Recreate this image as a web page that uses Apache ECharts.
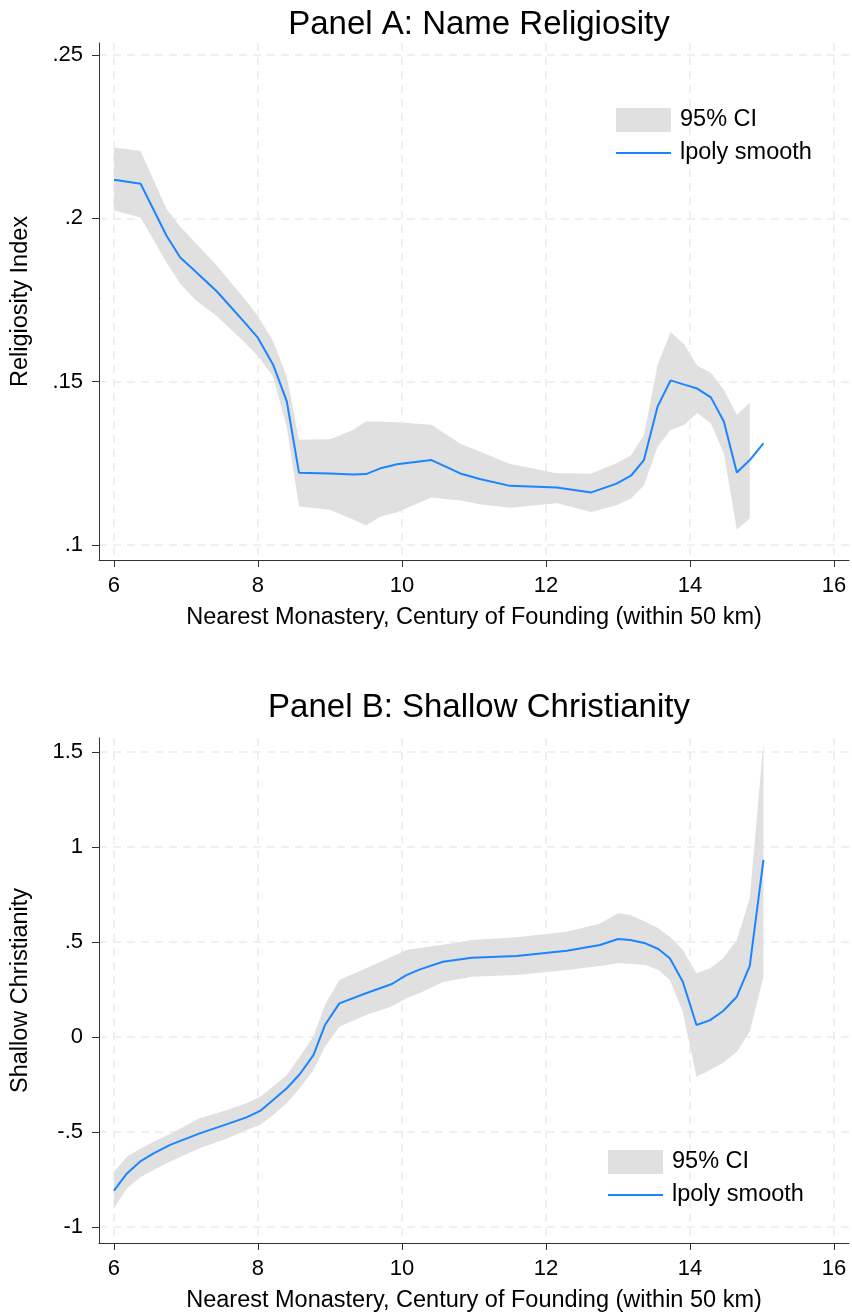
<!DOCTYPE html>
<html>
<head>
<meta charset="utf-8">
<script src="https://cdn.jsdelivr.net/npm/echarts@6/dist/echarts.min.js"></script>
<style>
  html, body { margin: 0; padding: 0; background: #fff; }
  #chart { width: 852px; height: 1316px; }
</style>
</head>
<body>
<div id="chart"></div>
<script>
// tick values
const xTicks = [6, 8, 10, 12, 14, 16];
const yTicksA = [0.1, 0.15, 0.2, 0.25];
const yTicksB = [-1, -0.5, 0, 0.5, 1, 1.5];

// Panel A: name religiosity
const xA = [6.0, 6.37, 6.73, 6.92, 7.125, 7.43, 7.82, 8.0, 8.21, 8.4, 8.57, 9.0, 9.32, 9.5, 9.69, 9.93,
  10.41, 10.81, 11.08, 11.5, 12.15, 12.63, 12.98, 13.18, 13.36, 13.55, 13.73, 13.92, 14.1, 14.29,
  14.47, 14.65, 14.83, 15.02];
const fitA = [0.2118, 0.2106, 0.1947, 0.188, 0.1839, 0.1776, 0.168, 0.1634, 0.1552, 0.144, 0.1221,
  0.1219, 0.1216, 0.1217, 0.1234, 0.1247, 0.126, 0.1219, 0.1202, 0.1181, 0.1176, 0.1161, 0.1188,
  0.1212, 0.126, 0.1424, 0.1504, 0.1491, 0.1479, 0.1452, 0.1378, 0.1222, 0.126, 0.1311];
const upA = [0.2217, 0.2206, 0.2029, 0.1975, 0.1927, 0.1855, 0.1752, 0.170, 0.1624, 0.1516, 0.1322,
  0.1324, 0.1352, 0.1378, 0.1378, 0.1376, 0.1368, 0.131, 0.1286, 0.1248, 0.122, 0.1219, 0.125,
  0.1275, 0.1337, 0.1552, 0.1652, 0.1614, 0.1549, 0.1527, 0.1475, 0.1398, 0.1436, null];
const loA = [0.2024, 0.2003, 0.1865, 0.180, 0.1752, 0.170, 0.1619, 0.1578, 0.1516, 0.136, 0.1118,
  0.1108, 0.1078, 0.106, 0.1086, 0.110, 0.1145, 0.1136, 0.1125, 0.1114, 0.1128, 0.1101, 0.1122,
  0.1142, 0.1183, 0.1301, 0.1352, 0.1368, 0.1404, 0.1373, 0.128, 0.1047, 0.1081, null];

// Panel B: shallow christianity
const xB = [6.0, 6.18, 6.36, 6.55, 6.78, 7.19, 7.56, 7.84, 8.03, 8.21, 8.4, 8.58, 8.77, 8.93, 9.13,
  9.5, 9.86, 10.06, 10.25, 10.57, 10.97, 11.59, 12.29, 12.75, 13.0, 13.17, 13.38, 13.56, 13.72,
  13.9, 14.09, 14.28, 14.46, 14.65, 14.83, 15.02];
const fitB = [-0.809, -0.718, -0.656, -0.612, -0.568, -0.507, -0.46, -0.423, -0.389, -0.332, -0.27,
  -0.196, -0.095, 0.063, 0.177, 0.23, 0.279, 0.326, 0.356, 0.396, 0.417, 0.426, 0.454, 0.484,
  0.516, 0.511, 0.493, 0.463, 0.414, 0.291, 0.063, 0.089, 0.137, 0.212, 0.374, 0.932];
const upB = [-0.709, -0.63, -0.59, -0.551, -0.51, -0.428, -0.385, -0.349, -0.314, -0.26, -0.2,
  -0.104, 0.002, 0.168, 0.3, 0.362, 0.423, 0.458, 0.468, 0.486, 0.511, 0.525, 0.554, 0.598,
  0.651, 0.642, 0.607, 0.572, 0.528, 0.458, 0.335, 0.362, 0.414, 0.511, 0.73, 1.554];
const loB = [-0.902, -0.796, -0.74, -0.7, -0.655, -0.586, -0.535, -0.489, -0.463, -0.41, -0.349,
  -0.27, -0.174, -0.051, 0.054, 0.116, 0.16, 0.204, 0.232, 0.29, 0.317, 0.326, 0.353, 0.374,
  0.388, 0.386, 0.379, 0.353, 0.3, 0.133, -0.209, -0.174, -0.135, -0.077, 0.028, 0.317];

const BAND = "#e0e0e0";
const LINE = "#1a85ff";
const FONT = "Liberation Sans, Arial, sans-serif";

// ".25" style labels, like Stata
const fmt = (v) => String(v).replace(/^(-?)0\./, "$1.");

const pairs = (xs, ys) => xs.map((x, i) => [x, ys[i]]).filter((p) => p[1] !== null);
const bandRows = (xs, lo, hi) =>
  xs.map((x, i) => [x, lo[i], hi[i]]).filter((r) => r[1] !== null && r[2] !== null);

const xAxisOpt = (gridIndex) => ({
  type: "value",
  gridIndex,
  min: 5.792,
  max: 16.208,
  name: "Nearest Monastery, Century of Founding (within 50 km)",
  nameLocation: "middle",
  nameGap: 46,
  nameTextStyle: { fontSize: 23.5, color: "#000", fontFamily: FONT },
  axisLine: { show: true, onZero: false, lineStyle: { color: "#333", width: 1 } },
  axisTick: { show: true, length: 7, customValues: xTicks, lineStyle: { color: "#333" } },
  axisLabel: { customValues: xTicks, fontSize: 22, color: "#000", margin: 15, fontFamily: FONT },
  splitLine: { show: true, lineStyle: { color: "#ebebeb", type: [8, 6], width: 1.5 } },
});

const yAxisOpt = (gridIndex, name, min, max, ticks) => ({
  type: "value",
  gridIndex,
  min,
  max,
  name,
  nameLocation: "middle",
  nameGap: 66,
  nameRotate: 90,
  nameTextStyle: { fontSize: 23.5, color: "#000", fontFamily: FONT },
  axisLine: { show: true, lineStyle: { color: "#333", width: 1 } },
  axisTick: { show: true, length: 7, customValues: ticks, lineStyle: { color: "#333" } },
  axisLabel: { customValues: ticks, fontSize: 22, color: "#000", margin: 16, fontFamily: FONT, formatter: fmt },
  splitLine: { show: true, lineStyle: { color: "#ebebeb", type: [8, 6], width: 1.5 } },
});

// CI band: one polygon, upper edge forward then lower edge back
const bandSeries = (idx, rows) => ({
  name: "95% CI",
  type: "custom",
  xAxisIndex: idx,
  yAxisIndex: idx,
  silent: true,
  itemStyle: { color: BAND },
  data: rows,
  renderItem: (params, api) => {
    if (params.dataIndex !== 0) return null;
    const top = rows.map((r) => api.coord([r[0], r[2]]));
    const bottom = rows.map((r) => api.coord([r[0], r[1]])).reverse();
    return {
      type: "polygon",
      shape: { points: top.concat(bottom) },
      style: { fill: BAND },
    };
  },
});

const lineSeries = (idx, xs, ys) => ({
  name: "lpoly smooth",
  type: "line",
  xAxisIndex: idx,
  yAxisIndex: idx,
  symbol: "none",
  showSymbol: false,
  lineStyle: { color: LINE, width: 2 },
  itemStyle: { color: LINE },
  data: pairs(xs, ys),
});

const legendOpt = (left, top) => ({
  left,
  top,
  orient: "vertical",
  itemWidth: 55,
  itemHeight: 24,
  itemGap: 9,
  selectedMode: false,
  symbolKeepAspect: true,
  textStyle: { fontSize: 23.5, color: "#000", fontFamily: FONT, padding: [0, 0, 0, 4] },
  data: [
    { name: "95% CI", icon: "rect", itemStyle: { color: BAND } },
    { name: "lpoly smooth", icon: "path://M0,0H55V2H0Z", itemStyle: { color: LINE }, lineStyle: { width: 0 } },
  ],
});

const chart = echarts.init(document.getElementById("chart"), null, { renderer: "canvas" });

chart.setOption({
  backgroundColor: "#fff",
  animation: false,
  title: [
    { text: "Panel A: Name Religiosity", left: 474, top: 3, textAlign: "center",
      textStyle: { fontSize: 33, fontWeight: "normal", color: "#000", fontFamily: FONT } },
    { text: "Panel B: Shallow Christianity", left: 474, top: 686, textAlign: "center",
      textStyle: { fontSize: 33, fontWeight: "normal", color: "#000", fontFamily: FONT } },
  ],
  legend: [legendOpt(611, 103), legendOpt(603, 1145)],
  grid: [
    { left: 99, top: 43, width: 750, height: 517 },
    { left: 99, top: 738, width: 750, height: 505 },
  ],
  xAxis: [xAxisOpt(0), xAxisOpt(1)],
  yAxis: [
    yAxisOpt(0, "Religiosity Index", 0.0954, 0.2537, yTicksA),
    yAxisOpt(1, "Shallow Christianity", -1.0842, 1.5737, yTicksB),
  ],
  series: [
    bandSeries(0, bandRows(xA, loA, upA)),
    lineSeries(0, xA, fitA),
    bandSeries(1, bandRows(xB, loB, upB)),
    lineSeries(1, xB, fitB),
  ],
});

window.addEventListener("resize", () => chart.resize());
</script>
</body>
</html>
